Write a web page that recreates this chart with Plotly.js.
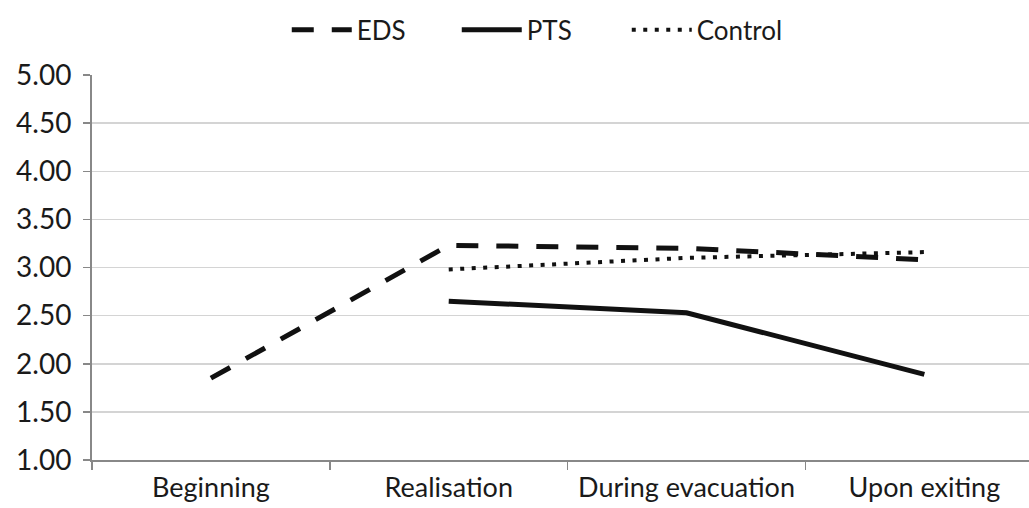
<!DOCTYPE html>
<html>
<head>
<meta charset="utf-8">
<script src="https://cdn.plot.ly/plotly-3.0.1.min.js"></script>
<style>html,body{margin:0;padding:0;background:#fff;}#chart{width:1029px;height:508px;}</style>
</head>
<body>
<div id="chart"></div>
<script>
const categories = ["Beginning", "Realisation", "During evacuation", "Upon exiting"];
const edsValues = [1.85, 3.23, 3.20, 3.08];
const ptsValues = [null, 2.65, 2.53, 1.89];
const controlValues = [null, 2.98, 3.10, 3.16];
const yTickValues = [1.0, 1.5, 2.0, 2.5, 3.0, 3.5, 4.0, 4.5, 5.0];
const yTickLabels = ["1.00", "1.50", "2.00", "2.50", "3.00", "3.50", "4.00", "4.50", "5.00"];

const font = "Lato, 'Open Sans', sans-serif";
const traces = [
  {x: categories, y: edsValues, name: "EDS", mode: "lines",
   line: {color: "#111", width: 5, dash: "22px,18px"}},
  {x: categories, y: ptsValues, name: "PTS", mode: "lines",
   line: {color: "#111", width: 5}},
  {x: categories, y: controlValues, name: "Control", mode: "lines",
   line: {color: "#111", width: 4, dash: "4px,7.5px"}}
];
const layout = {
  width: 1029, height: 508,
  margin: {l: 92, r: 0, t: 75, b: 48},
  paper_bgcolor: "#fff", plot_bgcolor: "#fff",
  font: {family: font, color: "#1a1a1a"},
  showlegend: true,
  legend: {orientation: "h", x: 0.48, xanchor: "center", y: 1.117, yanchor: "middle",
           font: {size: 26, family: font, color: "#1a1a1a"}, itemwidth: 60,
           entrywidth: 95, traceorder: "normal"},
  xaxis: {type: "category", categoryorder: "array", categoryarray: categories,
          range: [-0.5, 3.44], tickson: "boundaries", ticks: "outside", ticklen: 8,
          tickcolor: "#888", tickwidth: 1.5, showline: true, linecolor: "#888", linewidth: 2,
          showgrid: false, zeroline: false, fixedrange: true, tickangle: 0,
          tickfont: {size: 27, family: font, color: "#1a1a1a"}, ticklabelstandoff: 3},
  yaxis: {range: [1, 5], tickvals: yTickValues, ticktext: yTickLabels,
          ticks: "outside", ticklen: 7, tickcolor: "#888", tickwidth: 1.5,
          showline: true, linecolor: "#888", linewidth: 2,
          showgrid: true, gridcolor: "#d4d4d4", gridwidth: 1.5, zeroline: false,
          tickfont: {size: 28, family: font, color: "#1a1a1a"}, ticklabelstandoff: 6}
};
Plotly.newPlot("chart", traces, layout, {displayModeBar: false, staticPlot: true});
</script>
</body>
</html>
